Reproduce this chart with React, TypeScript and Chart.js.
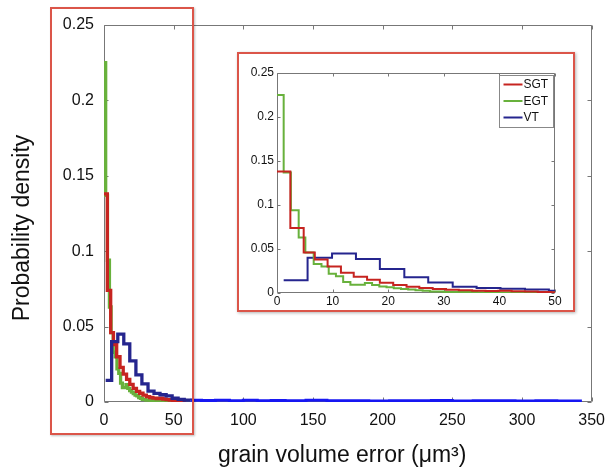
import React, { useEffect, useRef } from 'react';
import { Chart, registerables } from 'chart.js';

Chart.register(...registerables);

// ---------- data ----------
const SERIES_LABELS = ['SGT', 'EGT', 'VT'];

const SGT_X = [0, 2.4, 4.8, 6.8, 9.1, 11.5, 13.8, 16.2, 18.5, 20.9, 23.3, 25.6, 28.0, 30.4, 32.7, 35.1, 37.5, 39.8, 42.2, 44.6, 46.9, 49.3, 51.6, 54.0, 56.4, 58.7];
const SGT_Y = [0.138, 0.074, 0.046, 0.038, 0.030, 0.023, 0.0185, 0.015, 0.0117, 0.009, 0.007, 0.0058, 0.0045, 0.0036, 0.003, 0.0026, 0.0022, 0.0025, 0.002, 0.0016, 0.0012, 0.0008, 0.0010, 0.0008, 0.0006, 0.0006];

const EGT_X = [0, 1.2, 2.5, 3.9, 5.1, 6.6, 8.0, 9.3, 10.6, 11.9, 13.2, 14.5, 15.8, 17.1, 18.4, 19.7, 21.0, 22.3, 23.6, 24.9, 26.2, 27.5, 30.0, 33.0, 36.0, 40.0, 45.0, 50.0, 55.0];
const EGT_Y = [0.225, 0.137, 0.094, 0.063, 0.046, 0.033, 0.030, 0.022, 0.019, 0.0125, 0.0095, 0.0095, 0.0115, 0.009, 0.0075, 0.0065, 0.0055, 0.0045, 0.004, 0.003, 0.0025, 0.0018, 0.0012, 0.0010, 0.0008, 0.0007, 0.0006, 0.0005, 0.0005];

const VT_X = [1.2, 5.5, 9.9, 14.2, 18.5, 22.9, 27.2, 31.6, 35.9, 40.2, 44.6, 48.9, 53.2, 57.6, 61.9];
const VT_Y = [0.0144, 0.040, 0.045, 0.0386, 0.0273, 0.018, 0.012, 0.0072, 0.0057, 0.0048, 0.004, 0.0025, 0.0018, 0.0013, 0.0012];

const VT_TAIL_X = [61.9, 70, 80, 90, 100, 110, 120, 130, 145, 160, 175, 190, 205, 220, 235, 250, 265, 280, 295, 310, 325, 343];
const VT_TAIL_Y = [0.0012, 0.0010, 0.0011, 0.0009, 0.0012, 0.0008, 0.0010, 0.0009, 0.0011, 0.0008, 0.0009, 0.0007, 0.0009, 0.0008, 0.0010, 0.0007, 0.0008, 0.0009, 0.0007, 0.0008, 0.0007, 0.0007];

const MAIN_X_TICKS = ['0', '50', '100', '150', '200', '250', '300', '350'];
const INSET_X_TICKS = ['0', '10', '20', '30', '40', '50'];
const Y_TICKS = ['0', '0.05', '0.1', '0.15', '0.2', '0.25'];

const X_TITLE = 'grain volume error (\u03bcm\u00b3)';
const Y_TITLE = 'Probability density';

// ---------- styles ----------
const FONT = '"Liberation Sans", Arial, Helvetica, sans-serif';
const C_SGT = '#c62420';
const C_EGT = '#68b13c';
const C_VT = '#25258e';
const C_TAIL = '#1717f2';
const C_BOX = '#db5549';

const pts = (xs: number[], ys: number[]) => xs.map((x, i) => ({ x, y: ys[i] }));

const framePlugin = {
  id: 'frameTicks',
  beforeDatasetsDraw(chart: any, _a: any, opts: any) {
    const { ctx, chartArea: a, scales } = chart;
    const L = opts.len;
    ctx.save();
    ctx.strokeStyle = opts.color;
    ctx.lineWidth = 1;
    ctx.beginPath();
    const l = Math.round(a.left) + 0.5, r = Math.round(a.right) - 0.5;
    const t = Math.round(a.top) + 0.5, b = Math.round(a.bottom) - 0.5;
    ctx.rect(l, t, r - l, b - t);
    scales.x.ticks.forEach((tk: any) => {
      const px = Math.round(scales.x.getPixelForValue(tk.value)) + 0.5;
      ctx.moveTo(px, b); ctx.lineTo(px, b - L);
      ctx.moveTo(px, t); ctx.lineTo(px, t + L);
    });
    scales.y.ticks.forEach((tk: any) => {
      const py = Math.round(scales.y.getPixelForValue(tk.value)) + 0.5;
      ctx.moveTo(l, py); ctx.lineTo(l + L, py);
      ctx.moveTo(r, py); ctx.lineTo(r - L, py);
    });
    ctx.stroke();
    ctx.restore();
  },
};

const titlePlugin = {
  id: 'axisTitles',
  afterDraw(chart: any) {
    const { ctx } = chart;
    ctx.save();
    ctx.fillStyle = '#111';
    ctx.font = `23px ${FONT}`;
    ctx.textBaseline = 'alphabetic';
    ctx.textAlign = 'left';
    ctx.fillText(X_TITLE, 218, 462);
    ctx.translate(29, 228);
    ctx.rotate(-Math.PI / 2);
    ctx.textAlign = 'center';
    ctx.fillText(Y_TITLE, 0, 0);
    ctx.restore();
  },
};

const legendPlugin = {
  id: 'insetLegend',
  afterDraw(chart: any) {
    const { ctx, chartArea: a } = chart;
    const w = 54, h = 52;
    const x0 = Math.round(a.right) - 2 - w + 0.5;
    const y0 = Math.round(a.top) + 2 + 0.5;
    ctx.save();
    ctx.fillStyle = '#fff';
    ctx.strokeStyle = '#888';
    ctx.lineWidth = 1;
    ctx.fillRect(x0, y0, w, h);
    ctx.strokeRect(x0, y0, w, h);
    ctx.font = `12px ${FONT}`;
    ctx.textBaseline = 'middle';
    ctx.textAlign = 'left';
    chart.data.datasets.forEach((ds: any, i: number) => {
      const yy = y0 + 9 + i * 16.5;
      ctx.strokeStyle = ds.borderColor;
      ctx.lineWidth = 2;
      ctx.beginPath();
      ctx.moveTo(x0 + 4, yy);
      ctx.lineTo(x0 + 23, yy);
      ctx.stroke();
      ctx.fillStyle = '#111';
      ctx.fillText(ds.label, x0 + 24, yy + 0.5);
    });
    ctx.restore();
  },
};

function makeScales(xMax: number, xStep: number, xLabels: string[], fontSize: number, xPad: number, yPad: number, xH: number, yW: number) {
  return {
    x: {
      type: 'linear' as const,
      min: 0,
      max: xMax,
      ticks: {
        stepSize: xStep,
        autoSkip: false,
        maxRotation: 0,
        padding: xPad,
        color: '#111',
        font: { family: FONT, size: fontSize },
        callback: (_v: any, i: number) => xLabels[i],
      },
      grid: { display: false, drawTicks: false },
      border: { display: false },
      afterFit: (s: any) => { s.height = xH; },
    },
    y: {
      type: 'linear' as const,
      min: 0,
      max: 0.25,
      ticks: {
        stepSize: 0.05,
        autoSkip: false,
        padding: yPad,
        color: '#111',
        font: { family: FONT, size: fontSize },
        callback: (_v: any, i: number) => Y_TICKS[i],
      },
      grid: { display: false, drawTicks: false },
      border: { display: false },
      afterFit: (s: any) => { s.width = yW; },
    },
  };
}

function line(label: string, xs: number[], ys: number[], color: string, width: number) {
  return { label, data: pts(xs, ys), borderColor: color, backgroundColor: color, borderWidth: width, stepped: true as const, pointRadius: 0, fill: false };
}

function MainChart() {
  const ref = useRef<HTMLCanvasElement>(null);
  useEffect(() => {
    const chart = new Chart(ref.current as HTMLCanvasElement, {
      type: 'line',
      data: {
        datasets: [
          line(SERIES_LABELS[2], VT_X, VT_Y, C_VT, 3.3),
          line(SERIES_LABELS[0], SGT_X, SGT_Y, C_SGT, 3.3),
          line(SERIES_LABELS[1], EGT_X, EGT_Y, C_EGT, 3.3),
          line(SERIES_LABELS[2] + ' tail', VT_TAIL_X, VT_TAIL_Y, C_TAIL, 3),
        ],
      },
      options: {
        animation: false,
        responsive: false,
        layout: { padding: { left: 0, top: 25, right: 15, bottom: 0 } },
        plugins: { legend: { display: false }, tooltip: { enabled: false }, frameTicks: { len: 4, color: '#777' } } as any,
        scales: makeScales(350, 50, MAIN_X_TICKS, 16, 9, 10, 68, 104) as any,
      },
      plugins: [framePlugin, titlePlugin],
    });
    return () => chart.destroy();
  }, []);
  return <canvas ref={ref} width={614} height={470} style={{ position: 'absolute', left: 0, top: 0, width: 614, height: 470 }} />;
}

function InsetChart() {
  const ref = useRef<HTMLCanvasElement>(null);
  useEffect(() => {
    const chart = new Chart(ref.current as HTMLCanvasElement, {
      type: 'line',
      data: {
        datasets: [
          line(SERIES_LABELS[0], SGT_X, SGT_Y, C_SGT, 2),
          line(SERIES_LABELS[1], EGT_X, EGT_Y, C_EGT, 2),
          line(SERIES_LABELS[2], VT_X, VT_Y, C_VT, 2),
        ],
      },
      options: {
        animation: false,
        responsive: false,
        layout: { padding: { left: 0, top: 19, right: 18, bottom: 0 } },
        plugins: { legend: { display: false }, tooltip: { enabled: false }, frameTicks: { len: 3, color: '#777' } } as any,
        scales: makeScales(50, 10, INSET_X_TICKS, 12, 1, 3, 17, 38) as any,
      },
      plugins: [framePlugin, legendPlugin],
    });
    return () => chart.destroy();
  }, []);
  return <canvas ref={ref} width={334} height={256} style={{ position: 'absolute', left: 0, top: 0, width: 334, height: 256 }} />;
}

export default function App() {
  return (
    <div style={{ position: 'fixed', left: 0, top: 0, width: 614, height: 470, background: '#fff', overflow: 'hidden' }}>
      <MainChart />
      <div style={{ position: 'absolute', left: 50, top: 7, width: 144, height: 428, boxSizing: 'border-box', border: `2px solid ${C_BOX}`, boxShadow: '1px 1px 2px rgba(0,0,0,0.25)' }} />
      <div style={{ position: 'absolute', left: 237, top: 52, width: 338, height: 260, boxSizing: 'border-box', border: `2px solid ${C_BOX}`, background: '#fff', boxShadow: '1px 1px 3px rgba(0,0,0,0.3)' }}>
        <div style={{ position: 'relative', width: 334, height: 256 }}>
          <InsetChart />
        </div>
      </div>
    </div>
  );
}
